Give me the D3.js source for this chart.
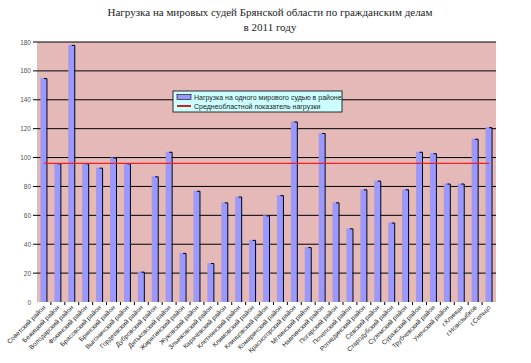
<!DOCTYPE html>
<html>
<head>
<meta charset="utf-8">
<script src="https://cdn.jsdelivr.net/npm/d3@7"></script>
<style>
  body { margin: 0; background: #fff; }
  svg { display: block; }
</style>
</head>
<body>
<div id="chart"></div>
<script>
// categories: judicial districts (labels not legible in the source, approximated)
const districts = [
  "Советский район", "Бежицкий район", "Володарский район",
  "Фокинский район", "Брасовский район", "Брянский район",
  "Выгоничский район", "Гордеевский район", "Дубровский район",
  "Дятьковский район", "Жирятинский район", "Жуковский район",
  "Злынковский район", "Карачевский район", "Клетнянский район",
  "Климовский район", "Клинцовский район", "Комаричский район",
  "Красногорский район", "Мглинский район", "Навлинский район",
  "Погарский район", "Почепский район", "Рогнединский район",
  "Севский район", "Стародубский район", "Суземский район",
  "Суражский район", "Трубчевский район", "Унечский район",
  "г.Клинцы", "г.Новозыбков", "г.Сельцо"
];
const load = [155, 96, 178, 96, 93, 100, 96, 21, 87, 104, 34, 77, 27, 69, 73, 43, 60, 74,
              125, 38, 117, 69, 51, 78, 84, 55, 78, 104, 103, 82, 82, 113, 121];
const regionAvg = 96;
const yTicks = [0, 20, 40, 60, 80, 100, 120, 140, 160, 180];
const legendNames = ["Нагрузка на одного мирового судью в районе", "Среднеобластной показатель нагрузки"];

const width = 531, height = 363;
const plotL = 37, plotR = 496, plotT = 42, plotB = 302;

const svg = d3.select('#chart').append('svg')
    .attr('width', width)
    .attr('height', height);

svg.append('rect').attr('width', width).attr('height', height).attr('fill', '#fff');

// title
const title = svg.append('text')
    .attr('x', 270).attr('y', 16)
    .attr('text-anchor', 'middle')
    .style('font-family', '"Liberation Serif", "DejaVu Serif", serif')
    .style('font-size', '11px')
    .attr('fill', '#222');
title.append('tspan').attr('x', 270).text('Нагрузка на мировых судей Брянской области по гражданским делам');
title.append('tspan').attr('x', 270).attr('dy', 15).text('в 2011 году');

const x = d3.scaleBand().domain(districts).range([plotL, plotR]).padding(0);
const y = d3.scaleLinear().domain([0, 180]).range([plotB, plotT]);

// plot area
svg.append('rect')
    .attr('x', plotL).attr('y', plotT)
    .attr('width', plotR - plotL).attr('height', plotB - plotT)
    .attr('fill', '#e5b9b8');

// gridlines + y ticks
svg.append('g')
    .selectAll('line')
    .data(yTicks.filter(d => d > 0))
    .enter().append('line')
    .attr('x1', plotL - 4).attr('x2', plotR)
    .attr('y1', d => y(d)).attr('y2', d => y(d))
    .attr('stroke', '#000').attr('stroke-width', 1);

svg.append('g')
    .selectAll('text')
    .data(yTicks)
    .enter().append('text')
    .attr('x', plotL - 6)
    .attr('y', d => y(d) + 2.5)
    .attr('text-anchor', 'end')
    .style('font-family', '"Liberation Sans", Arial, sans-serif')
    .style('font-size', '6.5px')
    .attr('fill', '#555')
    .text(d => d);

// bars
const bw = 6;
const bars = svg.append('g').selectAll('g')
    .data(districts.map((d, i) => ({name: d, v: load[i]})))
    .enter().append('g');
bars.append('rect')
    .attr('x', d => x(d.name) + x.bandwidth() / 2 - bw / 2 - 0.5)
    .attr('y', d => y(d.v))
    .attr('width', bw)
    .attr('height', d => plotB - y(d.v))
    .attr('fill', '#9999ff');
bars.append('path')
    .attr('d', d => {
        const x1 = x(d.name) + x.bandwidth() / 2 + bw / 2;
        return `M${x1 - 3},${y(d.v) + 0.5}H${x1}V${plotB}`;
    })
    .attr('fill', 'none')
    .attr('stroke', '#000')
    .attr('stroke-width', 1);

// x ticks
svg.append('g')
    .selectAll('line')
    .data(districts.slice(1))
    .enter().append('line')
    .attr('x1', d => x(d)).attr('x2', d => x(d))
    .attr('y1', plotB).attr('y2', plotB + 3)
    .attr('stroke', '#000');

// average line
const line = d3.line()
    .x(d => x(d) + x.bandwidth() / 2)
    .y(() => y(regionAvg));
svg.append('path')
    .datum(districts)
    .attr('d', line)
    .attr('fill', 'none')
    .attr('stroke', '#ee2222')
    .attr('stroke-width', 1.3);

// x labels
svg.append('g')
    .selectAll('text')
    .data(districts)
    .enter().append('text')
    .attr('transform', d => `translate(${x(d) + x.bandwidth() / 2 + 2},${plotB + 6}) rotate(-45)`)
    .attr('text-anchor', 'end')
    .style('font-family', '"Liberation Sans", Arial, sans-serif')
    .style('font-size', '6.5px')
    .attr('fill', '#222')
    .text(d => d);

// legend
const lg = svg.append('g').attr('transform', 'translate(173,91)');
lg.append('rect').attr('width', 169).attr('height', 21)
    .attr('fill', '#ccffff').attr('stroke', '#000').attr('stroke-width', 0.8);
lg.append('rect').attr('x', 4).attr('y', 3.5).attr('width', 14).attr('height', 5)
    .attr('fill', '#9999ff').attr('stroke', '#000').attr('stroke-width', 0.6);
lg.append('line').attr('x1', 4).attr('x2', 18).attr('y1', 15).attr('y2', 15)
    .attr('stroke', '#cc2222').attr('stroke-width', 2);
lg.selectAll('text.lab')
    .data(legendNames)
    .enter().append('text')
    .attr('class', 'lab')
    .attr('x', 21)
    .attr('y', (d, i) => 8.5 + i * 9)
    .style('font-family', '"Liberation Sans", Arial, sans-serif')
    .style('font-size', '7px')
    .attr('fill', '#222')
    .text(d => d);
</script>
</body>
</html>
